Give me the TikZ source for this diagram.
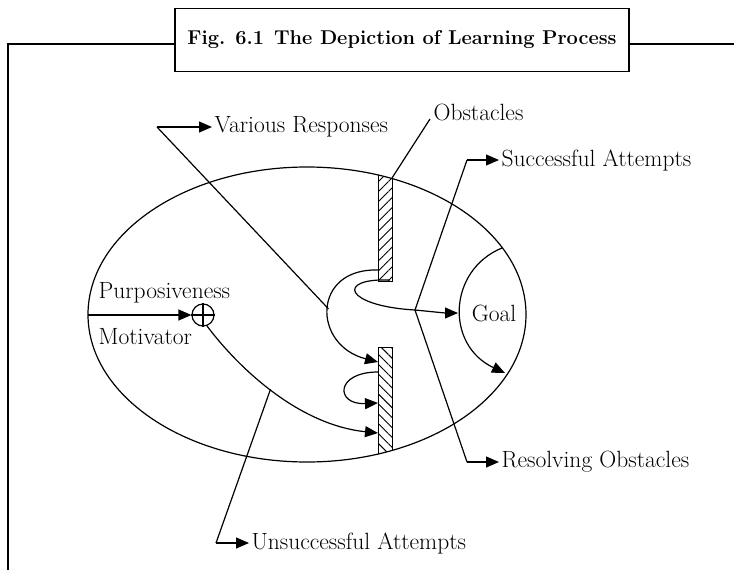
\documentclass[tikz,border=0pt]{standalone}
\usetikzlibrary{arrows.meta,patterns.meta}
\begin{document}
\begin{tikzpicture}[x=1pt,y=-1pt,line width=1.2pt,
  lbl/.style={font=\fontsize{23.5}{27}\selectfont, inner sep=2pt},
  arr/.style={-{Triangle[length=13pt,width=11pt]}},
  ttl/.style={draw, minimum width=454pt, minimum height=63pt, inner sep=0pt,
              font=\bfseries\fontsize{20}{24}\selectfont},
  barA/.style={line width=1pt, pattern={Lines[angle=45,distance=7pt,line width=0.9pt]}},
  barB/.style={line width=1pt, pattern={Lines[angle=-45,distance=7pt,line width=0.9pt]}}]
\useasboundingbox (0,0) rectangle (734,570);

% title and frame
\node[ttl] (title) at (402,40) {Fig. 6.1\enspace The Depiction of Learning Process};
\coordinate (fb) at (8,570);
\coordinate (ftl) at (8,44);
\coordinate (ftr) at (734,44);
\draw (fb) -- (ftl) -- (title.west |- ftl);
\draw (title.east |- ftr) -- (ftr);

% obstacles bars
\begin{scope}
  \clip (307,314.5) ellipse [x radius=219, y radius=147.5];
  \draw[barA] (378,150) rectangle (392,281);
  \draw[barB] (378,347) rectangle (392,480);
\end{scope}
% ellipse
\draw (307,314.5) ellipse [x radius=219, y radius=147.5];

% motivator
\node[draw, circle, minimum size=22pt, inner sep=0pt] (mot) at (203,315) {};
\draw (mot.north) -- (mot.south);
\draw (mot.west) -- (mot.east);
\coordinate (p0) at (88,315);
\draw[arr] (p0) -- (mot.west);
\node[lbl, anchor=west] (purp) at (96,293) {Purposiveness};
\node[lbl, anchor=west] (motl) at (96,337) {Motivator};

% labels
\node[lbl, anchor=west] (vrt) at (212,127) {Various Responses};
\node[lbl, anchor=west] (obst) at (431,112) {Obstacles};
\node[lbl, anchor=west] (sat) at (499,160) {Successful Attempts};
\node[lbl, anchor=west] (rot) at (499,462) {Resolving Obstacles};
\node[lbl, anchor=west] (uat) at (249,543) {Unsuccessful Attempts};
\node[lbl] (goal) at (494,313) {Goal};

% coordinates
\coordinate (vr) at (157,127);
\coordinate (ob) at (392,178);
\coordinate (obe) at (430,119);
\coordinate (s0) at (378,270);
\coordinate (s1) at (378,362);
\coordinate (h0) at (390,280);
\coordinate (jn) at (415,310);
\coordinate (gt) at (458,313);
\coordinate (sa) at (467,160);
\coordinate (ro) at (467,462);
\coordinate (g0) at (502,248);
\coordinate (g1) at (505,373);
\coordinate (l0) at (378,372);
\coordinate (l1) at (378,403);
\coordinate (m1) at (378,433);
\coordinate (ua) at (216,543);

% obstacles pointer
\draw (ob) -- (obe);

% various responses
\draw[arr] (s0) .. controls (312,268) and (312,345) .. coordinate[pos=0.5] (vrend) (s1);
\draw (vr) -- (vrend);
\draw[arr] (vr) -- (vrt.west);

% hook to goal
\draw[arr] (h0) .. controls (335,278) and (345,306) .. (jn) .. controls (435,312) and (445,313) .. (gt);

% successful / resolving
\draw (jn) -- (sa);
\draw[arr] (sa) -- (sat.west);
\draw (jn) -- (ro);
\draw[arr] (ro) -- (rot.west);

% goal arc
\draw[arr] (g0) .. controls (448,270) and (445,345) .. (g1);

% small loop
\draw[arr] (l0) .. controls (335,372) and (335,405) .. (l1);

% motivator curve and unsuccessful
\draw[arr] (mot.-70) .. controls (240,370) and (300,425) .. coordinate[pos=0.47] (uj) (m1);
\draw (uj) -- (ua);
\draw[arr] (ua) -- (uat.west);
\end{tikzpicture}
\end{document}
